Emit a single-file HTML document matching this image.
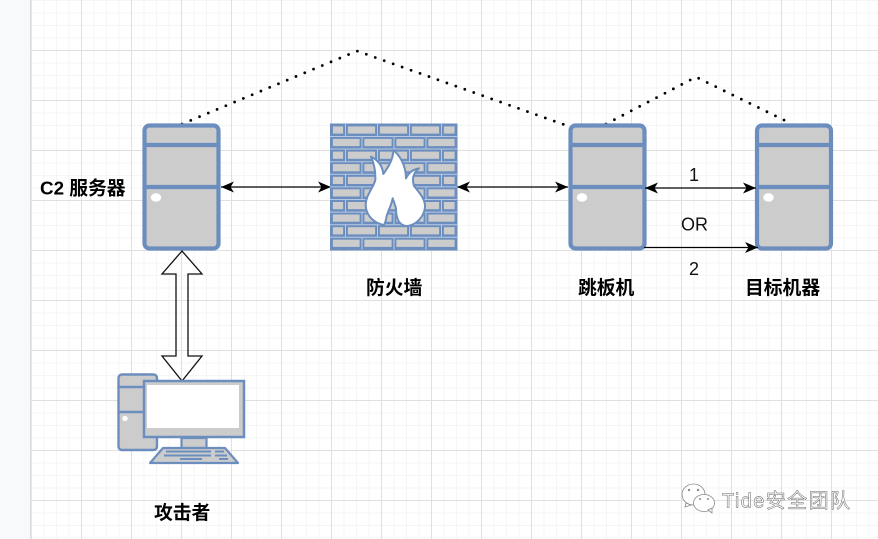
<!DOCTYPE html>
<html><head><meta charset="utf-8"><style>
html,body{margin:0;padding:0;background:#fff;width:878px;height:539px;overflow:hidden}
svg{display:block}
text{font-family:"Liberation Sans","Noto Sans CJK SC",sans-serif;fill:#000}
.b{font-weight:bold;font-size:18.8px}
.n{font-size:18px;fill:#111}
</style></head><body>
<svg width="878" height="539" viewBox="0 0 878 539" xmlns="http://www.w3.org/2000/svg">
<defs>
<pattern id="minor" x="31" y="0" width="12.5" height="12.5" patternUnits="userSpaceOnUse"><path d="M0.5 0V12.5M0 0.5H12.5" stroke="#f5f5f5" stroke-width="1" fill="none"/></pattern>
<marker id="a" markerWidth="14" markerHeight="12" refX="13" refY="6" orient="auto-start-reverse" markerUnits="userSpaceOnUse"><path d="M0 0.500L13 6L0 11.500L3.500 6Z" fill="#000"/></marker>
<g id="srv">
<rect x="144.500" y="125.500" width="74" height="123" rx="5" fill="#ccc" stroke="#6c8ebf" stroke-width="4.200"/>
<path d="M144 145H219M144 187H219" stroke="#6c8ebf" stroke-width="4.200"/>
<ellipse cx="156" cy="197.500" rx="5.200" ry="4.200" fill="#fff"/>
</g>
</defs>
<rect width="878" height="539" fill="#fff"/>
<rect x="0" y="0" width="31" height="539" fill="#f8f9fb"/>
<rect x="31" y="0" width="847" height="539" fill="url(#minor)"/>
<path d="M31 50.500H878M31 100.500H878M31 150.500H878M31 200.500H878M31 250.500H878M31 300.500H878M31 350.500H878M31 400.500H878M31 450.500H878M31 500.500H878M81.500 0V539M131.500 0V539M181.500 0V539M231.500 0V539M281.500 0V539M331.500 0V539M381.500 0V539M431.500 0V539M481.500 0V539M531.500 0V539M581.500 0V539M631.500 0V539M681.500 0V539M731.500 0V539M781.500 0V539M831.500 0V539" stroke="#e0e0e0" stroke-width="1" fill="none"/>
<rect x="30" y="0" width="1.500" height="539" fill="#dcdcdc"/>

<path d="M182 124L357 51L568 126" fill="none" stroke="#000" stroke-width="2.800" stroke-linecap="round" stroke-dasharray="0 9.500"/>
<path d="M606 124L696 77L790 123" fill="none" stroke="#000" stroke-width="2.800" stroke-linecap="round" stroke-dasharray="0 9.500"/>

<use href="#srv"/>
<use href="#srv" x="426"/>
<use href="#srv" x="612.500"/>

<path d="M221 187H331" stroke="#000" stroke-width="1.300" marker-start="url(#a)" marker-end="url(#a)"/>
<path d="M457 187H568" stroke="#000" stroke-width="1.300" marker-start="url(#a)" marker-end="url(#a)"/>
<path d="M645 188H756" stroke="#000" stroke-width="1.300" marker-start="url(#a)" marker-end="url(#a)"/>
<path d="M644 247.500H758" stroke="#000" stroke-width="1.300" marker-end="url(#a)"/>

<!-- firewall -->
<rect x="330" y="123.500" width="127.500" height="127" fill="#6c8ebf"/>
<g stroke="#6c8ebf" stroke-width="1.800" fill="#ccc">
<g id="r1"><rect x="332" y="125.500" width="12" height="9"/><rect x="347" y="125.500" width="29" height="9"/><rect x="379" y="125.500" width="29" height="9"/><rect x="411" y="125.500" width="29" height="9"/><rect x="443" y="125.500" width="12.500" height="9"/>
<path d="M345.500 124V136.500M377.500 124V136.500M409.500 124V136.500M441.500 124V136.500" stroke="#b9c9e3" stroke-width="1"/></g>
<g id="r2"><rect x="332" y="138" width="28.500" height="9"/><rect x="363.500" y="138" width="29" height="9"/><rect x="395.500" y="138" width="29" height="9"/><rect x="427.500" y="138" width="28" height="9"/>
<path d="M362 136.500V149M394 136.500V149M426 136.500V149" stroke="#b9c9e3" stroke-width="1"/></g>
<use href="#r1" y="25.200"/><use href="#r2" y="25.200"/>
<use href="#r1" y="50.400"/><use href="#r2" y="50.400"/>
<use href="#r1" y="75.600"/><use href="#r2" y="75.600"/>
<use href="#r1" y="100.800"/><use href="#r2" y="100.800"/>
</g>
<path d="M330 136.500H457M330 149H457M330 161.700H457M330 174.300H457M330 186.900H457M330 199.500H457M330 212.100H457M330 224.700H457M330 237.300H457" stroke="#b9c9e3" stroke-width="1"/>
<g transform="translate(310 110) scale(.3333)">
<path d="M183 140C205 150 218 170 220 192C232 175 250 150 250 120C268 135 288 165 288 205C295 190 308 178 327 175C310 188 305 205 312 228C330 250 347 270 345 292C342 322 315 348 288 348C268 345 258 325 258 295C255 285 252 275 248 265C245 285 235 300 230 318C228 330 225 340 222 345C195 340 168 320 167 285C167 255 190 235 196 210C197 185 192 160 183 140Z" fill="#fff" stroke="#6c8ebf" stroke-width="6" stroke-linejoin="round"/>
</g>

<!-- double arrow -->
<path d="M182 251L202 274H188V356H202L182 381L162 356H176V274H162Z" fill="none" stroke="#111" stroke-width="1.300"/>

<!-- computer -->
<rect x="118.500" y="374.500" width="38.500" height="75.500" rx="3.500" fill="#ccc" stroke="#6c8ebf" stroke-width="2.400"/>
<path d="M119 387H146M119 412H146" stroke="#6c8ebf" stroke-width="2.400"/>
<circle cx="125" cy="418.500" r="2.700" fill="#fff"/>
<rect x="144" y="381" width="100" height="56" fill="#ccc" stroke="#6c8ebf" stroke-width="2.500"/>
<rect x="147" y="385" width="92" height="43" fill="#fff"/>
<rect x="181.500" y="438" width="25" height="10" fill="#ccc" stroke="#6c8ebf" stroke-width="2.200"/>
<path d="M163 448H225L238 463H150Z" fill="#ccc" stroke="#6c8ebf" stroke-width="2.200" stroke-linejoin="round"/>
<path d="M166 451.500H211M215 451.500H224M164 455.500H211M215 455.500H227M180 459H202M219 459H228" stroke="#6c8ebf" stroke-width="2"/>

<!-- labels -->
<text class="b" x="40" y="194.500">C2 服务器</text>
<text class="b" x="366" y="294">防火墙</text>
<text class="b" x="578" y="294">跳板机</text>
<text class="b" x="745" y="294">目标机器</text>
<text class="b" x="154" y="519">攻击者</text>
<text class="n" x="694" y="181" text-anchor="middle">1</text>
<text class="n" x="694.500" y="230.500" text-anchor="middle">OR</text>
<text class="n" x="694" y="275" text-anchor="middle">2</text>

<!-- watermark -->
<g fill="#fff" stroke="#8a8a8a" stroke-width=".8">
<ellipse cx="693.500" cy="494.500" rx="11.500" ry="10.500"/>
<path d="M686 503L685 507L691 505Z"/>
<ellipse cx="704" cy="503" rx="10.500" ry="8.500"/>
<path d="M708 510L712 513L712 508Z"/>
</g>
<g fill="#8a8a8a"><circle cx="689" cy="490" r="1.200"/><circle cx="698" cy="490" r="1.200"/><circle cx="700" cy="499" r="1"/><circle cx="708" cy="499" r="1"/></g>
<text x="722" y="507.500" font-size="20" letter-spacing="1.400" style="fill:#fff;stroke:#666;stroke-width:.5px">Tide安全团队</text>
</svg>
</body></html>
